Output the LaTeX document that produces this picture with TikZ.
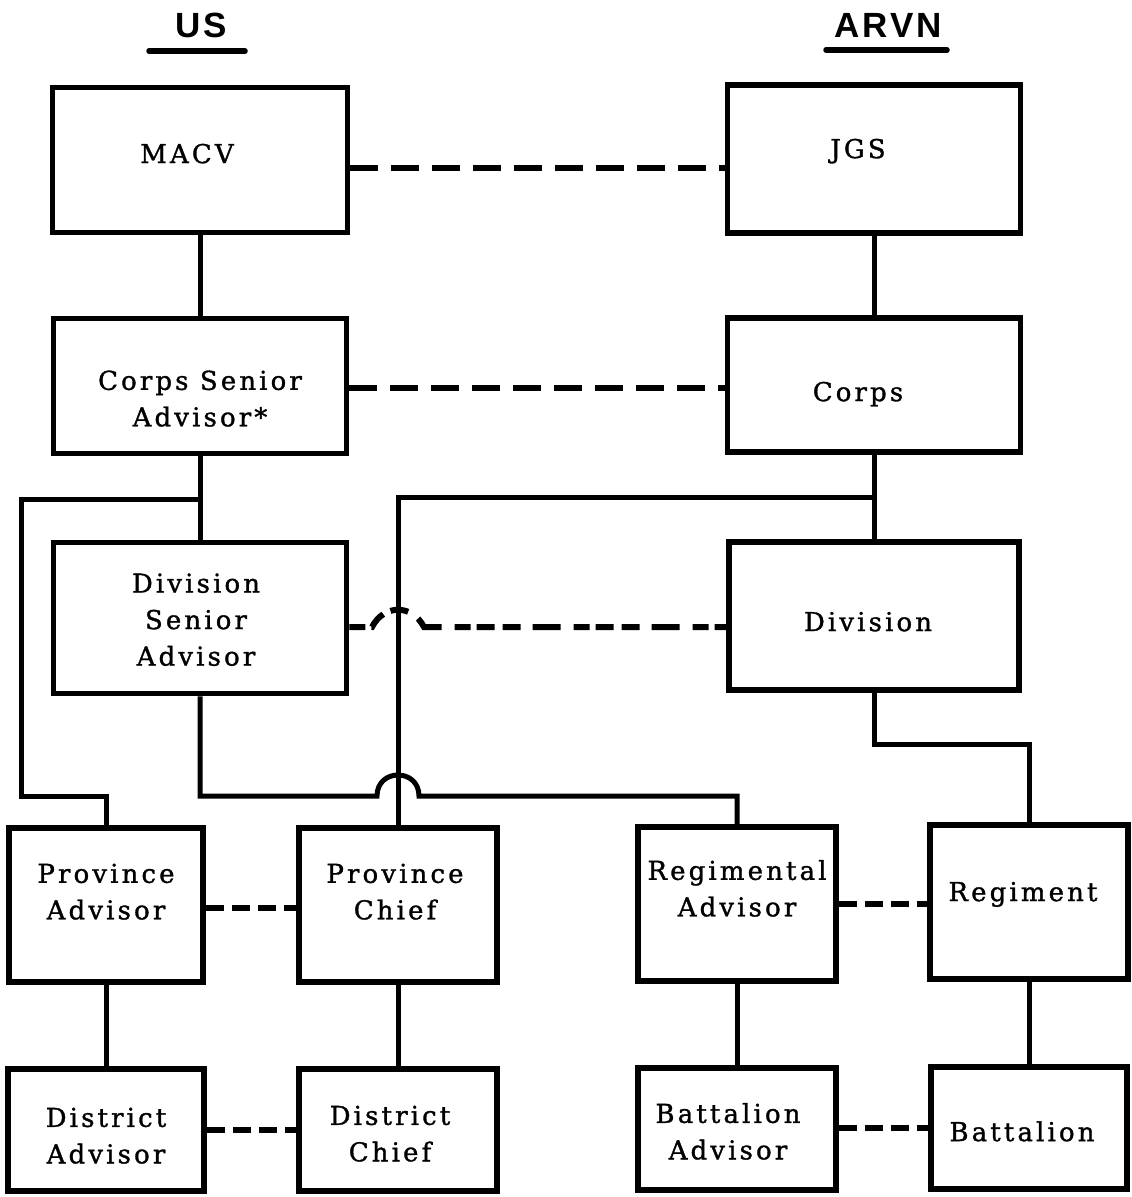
\documentclass[tikz,border=0pt]{standalone}
\usepackage{fontspec}
\newfontfamily\boxfont[LetterSpace=12,FakeBold=1.2]{DejaVu Serif}
\newfontfamily\titlefont[LetterSpace=8]{Liberation Sans}
% #1 = horizontal shift, #2 = vertical shift, #3 = lines
\newcommand{\boxtext}[3]{\raisebox{#2pt}[0pt][0pt]{\makebox[0pt]{\hspace*{#1pt}\hspace*{#1pt}\begin{tabular}{@{}c@{}}#3\end{tabular}}}}
\begin{document}
\begin{tikzpicture}[x=1pt,y=-1pt,
  box/.style={draw, line width=5.5pt, inner sep=0pt, align=center,
    font=\boxfont\fontsize{26}{36.5}\selectfont},
  conn/.style={line width=5pt},
  dashA/.style={line width=6pt, dash pattern=on 28pt off 13pt},
  dashB/.style={line width=6pt, dash pattern=on 18pt off 8pt},
  ttl/.style={font=\titlefont\bfseries\fontsize{35}{40}\selectfont, inner sep=0pt},
  uline/.style={line width=5.5pt, line cap=round}]
\useasboundingbox[fill=white] (0,0) rectangle (1132,1197);

% titles
\node[ttl] (us) at (201,25) {US};
\node[ttl] (arvn) at (888,25) {ARVN};
\draw[uline] (149,51) -- (245,51);
\draw[uline] (826,50) -- (947,50);

% boxes
\node[box, minimum width=295, minimum height=145] (macv) at (200,160) {\boxtext{-13}{-2}{MACV}};
\node[box, minimum width=293, minimum height=148] (jgs) at (874,159) {\boxtext{-16}{2}{JGS}};
\node[box, minimum width=293, minimum height=135] (csa) at (200,386) {\boxtext{0}{-21}{Corps Senior\\Advisor*}};
\node[box, minimum width=293, minimum height=134] (corps) at (874,385) {\boxtext{-16}{-15}{Corps}};
\node[box, minimum width=293, minimum height=151] (dsa) at (200,618) {\boxtext{-4}{-10}{Division\\Senior\\Advisor}};
\node[box, minimum width=290, minimum height=148] (div) at (874,616) {\boxtext{-6}{-14}{Division}};

\node[box, minimum width=194, minimum height=154] (pa) at (106,905) {\boxtext{0}{5}{Province\\Advisor}};
\node[box, minimum width=198, minimum height=154] (pc) at (398,905) {\boxtext{-3}{5}{Province\\Chief}};
\node[box, minimum width=198, minimum height=154] (ra) at (737,904) {\boxtext{0}{7}{Regimental\\Advisor}};
\node[box, minimum width=198, minimum height=154] (reg) at (1029,902) {\boxtext{-6}{2}{Regiment}};

\node[box, minimum width=196, minimum height=122] (da) at (106,1130) {\boxtext{0}{-14}{District\\Advisor}};
\node[box, minimum width=198, minimum height=122] (dc) at (398,1130) {\boxtext{-8}{-12}{District\\Chief}};
\node[box, minimum width=198, minimum height=122] (ba) at (737,1129) {\boxtext{-9}{-11}{Battalion\\Advisor}};
\node[box, minimum width=196, minimum height=122] (bat) at (1029,1128) {\boxtext{-7}{-12}{Battalion}};

% junction coordinates
\coordinate (a1) at (200,499);
\coordinate (a2) at (21,499);
\coordinate (a3) at (21,796);
\coordinate (b1) at (377,796);
\coordinate (b2) at (419,796);
\coordinate (c1) at (377,768);
\coordinate (c2) at (419,768);
\coordinate (d1) at (874,497);
\coordinate (e1) at (950,744);
\coordinate (h1) at (372,627);
\coordinate (h2) at (384,604);
\coordinate (h3) at (412,604);
\coordinate (h4) at (424,627);

% solid connectors
\draw[conn] (macv.south) -- (csa.north);
\draw[conn] (jgs.south) -- (corps.north);
\draw[conn] (csa.south) -- (dsa.north);
\draw[conn] (corps.south) -- (div.north);
\draw[conn] (a1) -- (a2) -- (a3) -| (pa.north);
\draw[conn] (dsa.south) |- (b1) .. controls (c1) and (c2) .. (b2) -| (ra.north);
\draw[conn] (pc.north) |- (d1);
\draw[conn] (div.south) |- (e1) -| (reg.north);
\draw[conn] (pa.south) -- (da.north);
\draw[conn] (pc.south) -- (dc.north);
\draw[conn] (ra.south) -- (ba.north);
\draw[conn] (reg.south) -- (bat.north);

% dashed connectors
\draw[dashA] ([yshift=-8pt]macv.east) -- ([yshift=-9pt]jgs.west);
\draw[dashA] ([yshift=-2pt]csa.east) -- ([yshift=-3pt]corps.west);
\draw[dashA, dash pattern=on 16pt off 6pt on 18pt off 8pt on 18pt off 12pt on 28pt off 13pt] ([yshift=-9pt]dsa.east) -- (h1) .. controls (h2) and (h3) .. (h4) -- ([yshift=-11pt]div.west);
\draw[dashB] ([yshift=-3pt]pa.east) -- ([yshift=-3pt]pc.west);
\draw[dashB] (ra.east) -- ([yshift=-2pt]reg.west);
\draw[dashB] (da.east) -- (dc.west);
\draw[dashB] ([yshift=1pt]ba.east) -- (bat.west);
\end{tikzpicture}
\end{document}
